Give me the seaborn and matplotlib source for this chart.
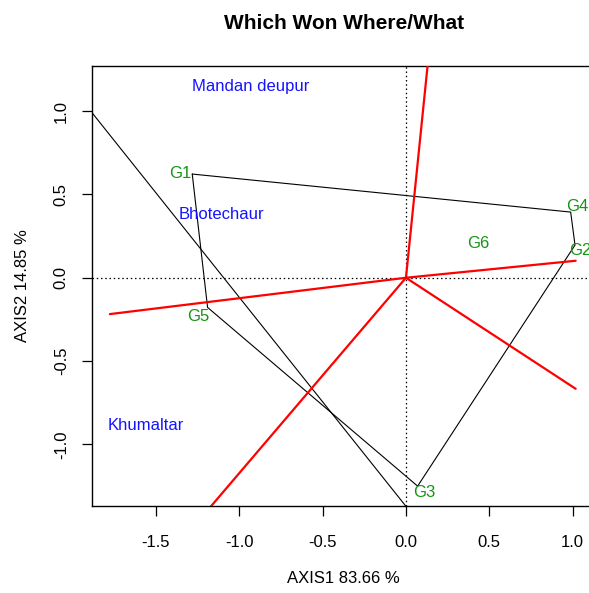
import numpy as np
import pandas as pd
import matplotlib
matplotlib.use("Agg")
import matplotlib.pyplot as plt
import seaborn as sns

# Genotype scores on the first two principal axes
genotypes = ["G1", "G2", "G3", "G4", "G5", "G6"]
geno_x = [-1.282, 1.014, 0.070, 0.988, -1.190, 0.434]
geno_y = [0.622, 0.196, -1.250, 0.394, -0.178, 0.206]

# Environment scores
environments = ["Mandan deupur", "Bhotechaur", "Khumaltar"]
env_x = [-0.930, -1.107, -1.563]
env_y = [1.150, 0.382, -0.888]

# Convex hull of the genotypes (vertex order)
hull_order = ["G1", "G4", "G2", "G3", "G5", "G1"]

# Additional boundary segment crossing the biplot
extra_x = [-1.895, 0.0]
extra_y = [1.005, -1.371]

# Rays from the origin perpendicular to each hull side (end points)
ray_end_x = [0.155, 1.018, 1.018, -1.260, -1.776]
ray_end_y = [1.520, 0.102, -0.666, -1.477, -0.218]

axis1_pct = 83.66
axis2_pct = 14.85
x_ticks = [-1.5, -1.0, -0.5, 0.0, 0.5, 1.0]
y_ticks = [-1.0, -0.5, 0.0, 0.5, 1.0]

sns.set_style("ticks")
plt.rcParams["font.family"] = ["Liberation Sans", "DejaVu Sans"]
plt.rcParams["text.color"] = "black"
plt.rcParams["axes.labelcolor"] = "black"
plt.rcParams["xtick.color"] = "black"
plt.rcParams["ytick.color"] = "black"

fig = plt.figure(figsize=(5.89, 5.93), dpi=100)
ax = fig.add_axes([0.1557, 0.1462, 0.8562, 0.7430])
ax.set_xlim(-1.885, 1.140)
ax.set_ylim(-1.371, 1.272)

green = "#149414"
blue = "#1414ff"

# reference axes through the origin
ax.axhline(0, color="black", lw=0.9, ls=(0, (1.2, 2.2)), zorder=1)
ax.axvline(0, color="black", lw=0.9, ls=(0, (1.2, 2.2)), zorder=1)

geno = pd.DataFrame({"name": genotypes, "x": geno_x, "y": geno_y}).set_index("name")
hull = geno.loc[hull_order].reset_index()
sns.lineplot(data=hull, x="x", y="y", sort=False, estimator=None,
             color="black", lw=0.8, ax=ax, zorder=2)
sns.lineplot(x=extra_x, y=extra_y, sort=False, estimator=None,
             color="black", lw=0.8, ax=ax, zorder=2)

for ex, ey in zip(ray_end_x, ray_end_y):
    sns.lineplot(x=[0.0, ex], y=[0.0, ey], sort=False, estimator=None,
                 color="red", lw=1.6, ax=ax, zorder=3)

# genotype labels, offset from their vertex in points
label_offsets = {
    "G1": (-0.5, 0.5, "right", "center"),
    "G2": (-4, -4, "left", "center"),
    "G3": (-3, -4.5, "left", "center"),
    "G4": (-3, 4, "left", "center"),
    "G5": (-7, -6.5, "center", "center"),
    "G6": (0, 0, "center", "center"),
}
for name, gx, gy in zip(genotypes, geno_x, geno_y):
    dx, dy, ha, va = label_offsets[name]
    ax.annotate(name, (gx, gy), xytext=(dx, dy), textcoords="offset points",
                ha=ha, va=va, color=green, fontsize=12, zorder=4)

for name, ex, ey in zip(environments, env_x, env_y):
    ax.text(ex, ey, name, ha="center", va="center", color=blue, fontsize=12, zorder=4)

ax.set_xticks(x_ticks)
ax.set_xticklabels([f"{t:.1f}" for t in x_ticks])
ax.set_yticks(y_ticks)
ax.set_yticklabels([f"{t:.1f}" for t in y_ticks], rotation=90, va="center")
ax.tick_params(axis="x", length=7.5, width=0.9, pad=13, labelsize=12)
ax.tick_params(axis="y", length=7.5, width=0.9, pad=9, labelsize=12)

for side in ["top", "bottom", "left", "right"]:
    ax.spines[side].set_visible(True)
    ax.spines[side].set_linewidth(1.0)
    ax.spines[side].set_color("black")

ax.set_xlabel(f"AXIS1 {axis1_pct:.2f} %", fontsize=12, labelpad=0)
ax.set_ylabel(f"AXIS2 {axis2_pct:.2f} %", fontsize=12, labelpad=0)
ax.xaxis.set_label_coords(0.5, -0.147)
ax.yaxis.set_label_coords(-0.122, 0.5)

fig.text(0.584, 0.961, "Which Won Where/What", ha="center", va="center",
         fontsize=15, fontweight="bold")

fig.savefig("out.png", dpi=100)
